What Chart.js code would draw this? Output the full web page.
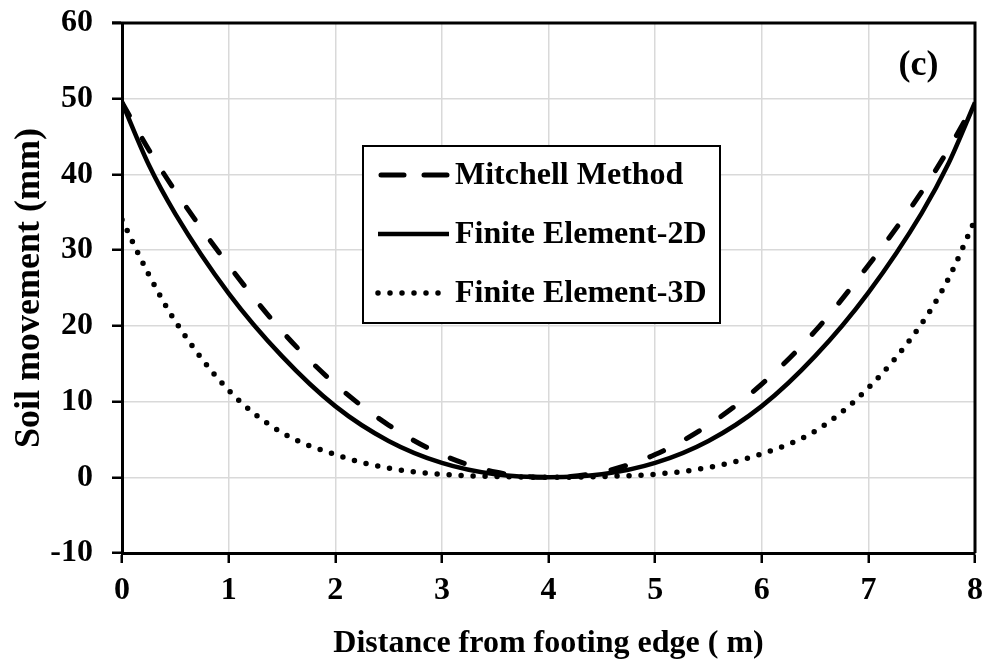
<!DOCTYPE html>
<html>
<head>
<meta charset="utf-8">
<script src="https://cdn.jsdelivr.net/npm/chart.js@4/dist/chart.umd.min.js"></script>
<style>
html, body { margin: 0; padding: 0; background: #ffffff; }
#wrap { width: 988px; height: 665px; }
</style>
</head>
<body>
<div id="wrap"><canvas id="chart" width="988" height="665"></canvas></div>
<script>
// ---- data ----
const xValues   = [0, 0.25, 0.5, 1, 1.5, 2, 2.5, 3, 3.5, 4, 4.5, 5, 5.5, 6, 6.5, 7, 7.5, 7.75, 8];
const mitchell  = [49.5, 43.3, 37.8, 28.0, 19.3, 12.3, 6.9, 3.0, 0.7, 0, 0.7, 3.0, 6.9, 12.3, 19.3, 28.0, 37.7, 43.3, 49.5];
const fe2d      = [49.5, 41.3, 34.8, 24.3, 16.0, 9.4, 4.8, 1.9, 0.4, 0, 0.4, 1.9, 4.8, 9.4, 16.0, 24.4, 34.9, 41.4, 49.5];
const fe3d      = [34.0, 26.8, 20.6, 11.5, 5.9, 3.0, 1.2, 0.4, 0.1, 0, 0.1, 0.4, 1.3, 3.1, 6.1, 11.8, 20.3, 26.2, 34.0];
const seriesLabels = ['Mitchell Method', 'Finite Element-2D', 'Finite Element-3D'];
const xTickValues = [0, 1, 2, 3, 4, 5, 6, 7, 8];
const yTickValues = [-10, 0, 10, 20, 30, 40, 50, 60];
const xTitle = 'Distance from footing edge ( m)';
const yTitle = 'Soil movement (mm)';
const panelLabel = '(c)';

// ---- build library structures ----
const toPoints = ys => xValues.map((x, i) => ({ x: x, y: ys[i] }));
const FONT = "'Liberation Serif', 'Times New Roman', serif";

const datasets = [
  { label: seriesLabels[0], data: toPoints(mitchell), borderColor: '#000', borderWidth: 5,
    borderDash: [15, 26], borderCapStyle: 'round', legendDash: [23, 20] },
  { label: seriesLabels[1], data: toPoints(fe2d), borderColor: '#000', borderWidth: 4.5,
    borderDash: [], borderCapStyle: 'butt', legendDash: [] },
  { label: seriesLabels[2], data: toPoints(fe3d), borderColor: '#000', borderWidth: 5.5,
    borderDash: [0, 12], borderCapStyle: 'round', legendDash: [0, 12] }
].map(d => Object.assign(d, { pointRadius: 0, fill: false, cubicInterpolationMode: 'monotone',
  borderJoinStyle: 'round', backgroundColor: '#000' }));

const framePlugin = {
  id: 'frame',
  beforeDatasetsDraw(chart) {
    const { ctx, chartArea: a } = chart;
    ctx.save();
    ctx.strokeStyle = '#000';
    ctx.lineWidth = 3;
    ctx.beginPath();
    ctx.moveTo(a.left - 10, a.top);
    ctx.lineTo(a.right, a.top);
    ctx.lineTo(a.right, a.bottom);
    ctx.stroke();
    ctx.restore();
  },
  afterDraw(chart) {
    const { ctx } = chart;
    const xs = chart.scales.x, ys = chart.scales.y;
    ctx.save();
    // panel label
    ctx.fillStyle = '#000';
    ctx.font = 'bold 36px ' + FONT;
    ctx.textAlign = 'center';
    ctx.textBaseline = 'middle';
    ctx.fillText(panelLabel, xs.getPixelForValue(7.47), ys.getPixelForValue(54.4));
    // legend box
    const bx = 363, by = 146, bw = 357, bh = 177;
    ctx.fillStyle = '#fff';
    ctx.fillRect(bx, by, bw, bh);
    ctx.lineWidth = 2;
    ctx.strokeStyle = '#000';
    ctx.strokeRect(bx, by, bw, bh);
    const rows = [by + 29, by + 88, by + 147];
    chart.data.datasets.forEach((d, i) => {
      const y = rows[i];
      ctx.save();
      ctx.strokeStyle = d.borderColor;
      ctx.lineWidth = d.borderWidth;
      ctx.lineCap = d.borderCapStyle;
      ctx.setLineDash(d.legendDash);
      ctx.beginPath();
      if (i === 0) { ctx.moveTo(381, y); ctx.lineTo(448, y); }
      else if (i === 1) { ctx.moveTo(378, y); ctx.lineTo(449, y); }
      else { ctx.moveTo(378, y); ctx.lineTo(441, y); }
      ctx.stroke();
      ctx.restore();
      ctx.fillStyle = '#000';
      ctx.font = 'bold 32px ' + FONT;
      ctx.textAlign = 'left';
      ctx.textBaseline = 'middle';
      ctx.fillText(d.label, 455, y + 1);
    });
    ctx.restore();
  }
};

new Chart(document.getElementById('chart'), {
  type: 'line',
  data: { datasets: datasets },
  plugins: [framePlugin],
  options: {
    responsive: false,
    animation: false,
    devicePixelRatio: 1,
    layout: { padding: { left: 0, right: 13, top: 23, bottom: 0 } },
    plugins: { legend: { display: false }, tooltip: { enabled: false }, title: { display: false } },
    scales: {
      x: {
        type: 'linear', min: xTickValues[0], max: xTickValues[xTickValues.length - 1],
        afterBuildTicks: s => { s.ticks = xTickValues.map(v => ({ value: v })); },
        afterFit: s => { s.height = 112; s.paddingLeft = 0; s.paddingRight = 0; },
        grid: { color: '#d9d9d9', lineWidth: 1.5, tickColor: '#000', tickWidth: 2.5, tickLength: 10 },
        border: { display: true, color: '#000', width: 3 },
        ticks: { color: '#000', padding: 9, maxRotation: 0, autoSkip: false,
          font: { family: FONT, size: 32, weight: 'bold' } },
        title: { display: true, text: xTitle, color: '#000', padding: { top: 0, bottom: 2 },
          font: { family: FONT, size: 32, weight: 'bold' } }
      },
      y: {
        type: 'linear', min: yTickValues[0], max: yTickValues[yTickValues.length - 1],
        afterBuildTicks: s => { s.ticks = yTickValues.map(v => ({ value: v })); },
        afterFit: s => { s.width = 122; s.paddingTop = 0; s.paddingBottom = 0; },
        grid: { color: '#d9d9d9', lineWidth: 1.5, tickColor: '#000', tickWidth: 2.5, tickLength: 10 },
        border: { display: true, color: '#000', width: 3 },
        ticks: { color: '#000', padding: 19, autoSkip: false,
          font: { family: FONT, size: 32, weight: 'bold' } },
        title: { display: true, text: yTitle, color: '#000', padding: { top: 8, bottom: 0 },
          font: { family: FONT, size: 36, weight: 'bold' } }
      }
    }
  }
});
</script>
</body>
</html>
